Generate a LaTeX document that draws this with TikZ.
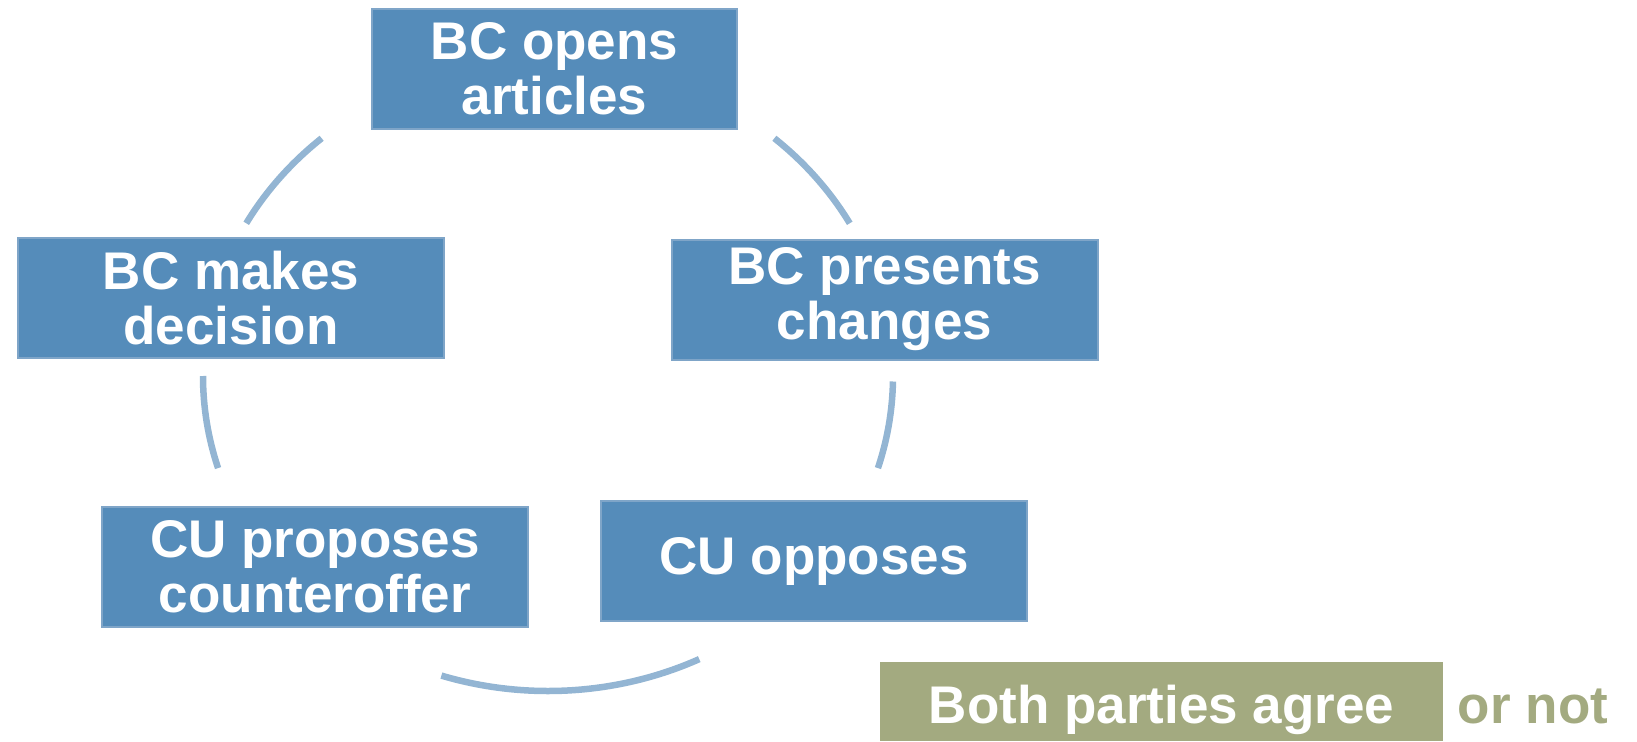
\documentclass[tikz,border=0pt]{standalone}
\usepackage{fontspec}
\setmainfont{Liberation Sans}
\definecolor{boxblue}{HTML}{558CBA}
\definecolor{boxrim}{HTML}{7FA5C8}
\definecolor{ringblue}{HTML}{93B5D3}
\definecolor{olive}{HTML}{A3AA80}
\begin{document}
\begin{tikzpicture}[x=0.5pt,y=0.5pt,
                       step node/.style={rectangle,fill=boxblue,draw=boxrim,line width=1pt,text=white,
                         align=center,inner sep=0pt,minimum width=213pt,minimum height=60pt,
                         font=\fontsize{26.5}{27.5}\selectfont\bfseries},
                       ring/.style={ringblue,line width=3.25pt}
                               ]
              \useasboundingbox (0,0) rectangle (1637,741);
              \node[step node,minimum width=182.5pt] (1) at (554.5,672) {BC opens\\articles};
              \node[step node] (2) at (884.5,441.5) {BC presents\\changes};
              \node[step node] (3) at (814,180) {CU opposes};
              \node[step node] (4) at (315,174) {CU proposes\\counteroffer};
              \node[step node] (5) at (231,443) {BC makes\\decision};
              \fill[olive] (880,0) rectangle (1443,79);
              \node[anchor=base,text=white,font=\fontsize{26.5}{27}\selectfont\bfseries] (A) at (1161.5,18) {Both parties agree};
              \node[anchor=base,text=olive,font=\fontsize{26.5}{27}\selectfont\bfseries] (N) at (1533,18) {or not};
              \coordinate (O) at (548,365);
              % arcs of the cycle
              \draw[ring] ([shift={(29:172.5pt and 157.5pt)}]O) arc[start angle=29,end angle=49,x radius=172.5pt,y radius=157.5pt];
              \draw[ring] ([shift={(131:172.5pt and 157.5pt)}]O) arc[start angle=131,end angle=151,x radius=172.5pt,y radius=157.5pt];
              \draw[ring] ([shift={(180:172.5pt and 157.5pt)}]O) arc[start angle=180,end angle=197,x radius=172.5pt,y radius=157.5pt];
              \draw[ring] ([shift={(252:172.5pt and 157.5pt)}]O) arc[start angle=252,end angle=296,x radius=172.5pt,y radius=157.5pt];
              \draw[ring] ([shift={(343:172.5pt and 157.5pt)}]O) arc[start angle=343,end angle=359,x radius=172.5pt,y radius=157.5pt];
          \end{tikzpicture}
\end{document}
